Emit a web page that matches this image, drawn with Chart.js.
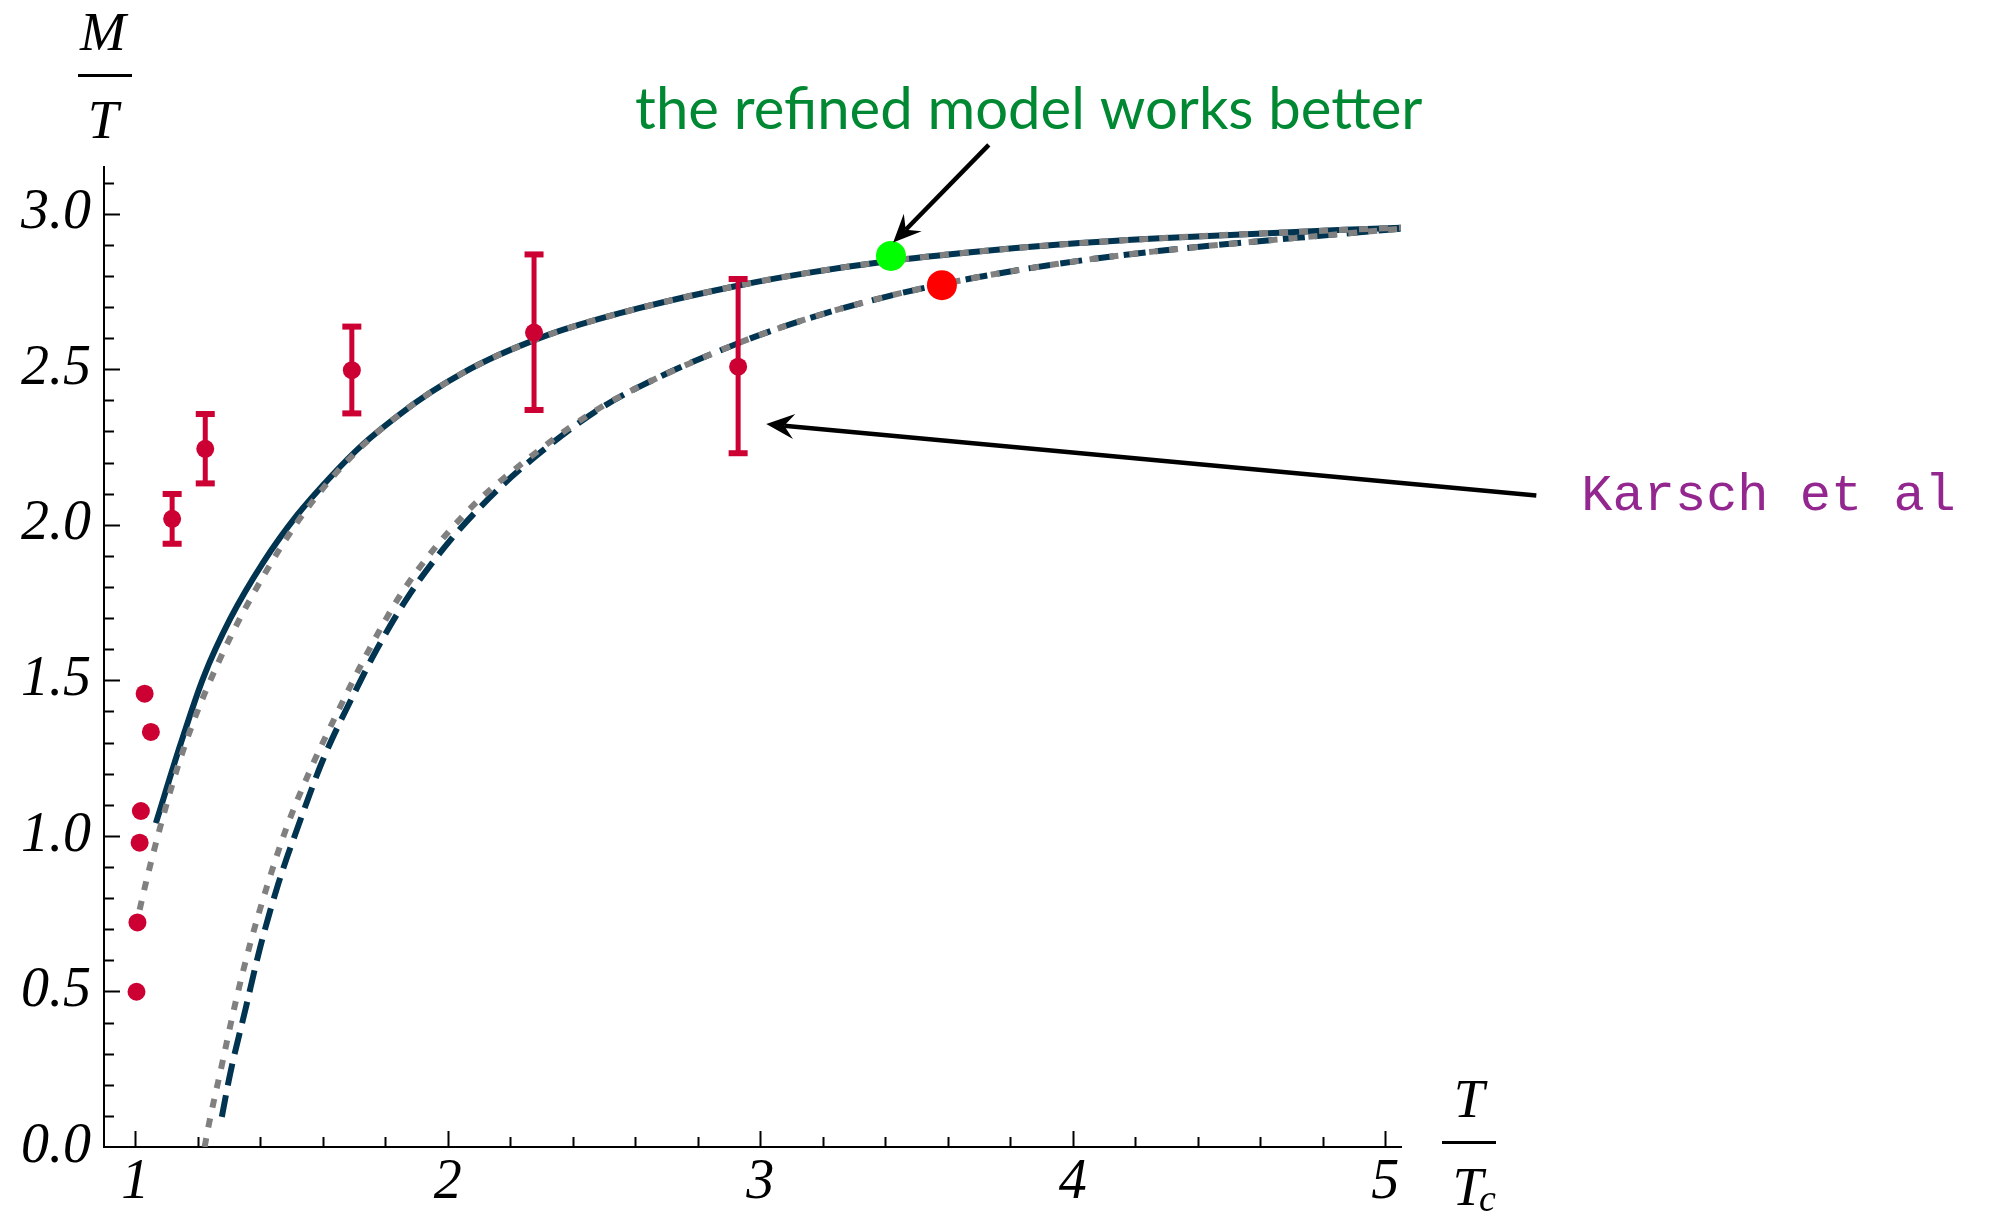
<!DOCTYPE html>
<html>
<head>
<meta charset="utf-8">
<script src="https://cdn.jsdelivr.net/npm/chart.js@4.4.1/dist/chart.umd.min.js"></script>
<style>
  html, body { margin: 0; padding: 0; background: #fff; }
</style>
</head>
<body>
<canvas id="grafico" width="1994" height="1216"></canvas>
<script>
// upper curve, solid (refined model)
var refinedX = [1.066, 1.144, 1.218, 1.304, 1.410, 1.517, 1.624, 1.730, 1.837, 1.943, 2.050, 2.157, 2.263, 2.370, 2.615, 2.935, 3.147, 3.414, 3.681, 3.947, 4.278, 4.917, 5.05];
var refinedY = [1.041, 1.292, 1.509, 1.698, 1.880, 2.030, 2.153, 2.260, 2.348, 2.424, 2.489, 2.543, 2.588, 2.627, 2.697, 2.770, 2.809, 2.848, 2.877, 2.900, 2.921, 2.950, 2.955];
// upper curve, gray dotted
var refinedDotX = [1.000, 1.032, 1.061, 1.096, 1.133, 1.176, 1.224, 1.304, 1.410, 1.517, 1.624, 1.730, 1.837, 1.943, 2.050, 2.157, 2.263, 2.370, 2.615, 2.935, 3.147, 3.414, 3.681, 3.947, 4.278, 4.917, 5.05];
var refinedDotY = [0.700, 0.841, 0.957, 1.087, 1.213, 1.340, 1.462, 1.638, 1.835, 2.006, 2.145, 2.257, 2.348, 2.424, 2.489, 2.543, 2.588, 2.627, 2.697, 2.770, 2.809, 2.848, 2.877, 2.900, 2.921, 2.950, 2.955];
// lower curve, dashed
var simpleX = [1.277, 1.304, 1.352, 1.400, 1.458, 1.528, 1.602, 1.709, 1.773, 1.879, 2.007, 2.157, 2.317, 2.477, 2.615, 2.935, 3.147, 3.414, 3.681, 3.947, 4.256, 4.917, 5.05];
var simpleY = [0.097, 0.237, 0.440, 0.643, 0.847, 1.050, 1.248, 1.475, 1.600, 1.778, 1.949, 2.110, 2.249, 2.367, 2.445, 2.586, 2.661, 2.736, 2.793, 2.838, 2.878, 2.940, 2.952];
// lower curve, gray dotted
var simpleDotX = [1.222, 1.234, 1.277, 1.320, 1.368, 1.421, 1.485, 1.560, 1.645, 1.741, 1.858, 2.050, 2.263, 2.477, 2.615, 2.935, 3.147, 3.414, 3.681, 3.947, 4.256, 4.917, 5.05];
var simpleDotY = [0.000, 0.065, 0.263, 0.461, 0.654, 0.836, 1.029, 1.212, 1.393, 1.585, 1.789, 2.030, 2.217, 2.370, 2.445, 2.586, 2.661, 2.736, 2.793, 2.838, 2.878, 2.940, 2.952];

// lattice points without errors
var latticeX = [1.004, 1.007, 1.014, 1.018, 1.030, 1.050];
var latticeY = [0.499, 0.722, 0.978, 1.080, 1.457, 1.334];

// Karsch et al with error bars
var karschX = [1.118, 1.224, 1.693, 2.276, 2.929];
var karschY = [2.019, 2.244, 2.497, 2.618, 2.508];
var karschLo = [1.939, 2.133, 2.358, 2.369, 2.230];
var karschHi = [2.099, 2.356, 2.637, 2.869, 2.790];

var greenPoint = [3.418, 2.864];
var redPoint = [3.581, 2.770];

var xTicks = [1, 2, 3, 4, 5];
var yTicks = [0, 0.5, 1, 1.5, 2, 2.5, 3];

var titleText = 'the refined model works better';
var titlePos = [3.859, 3.272];
var titleArrow = [3.731, 3.221, 3.425, 2.907];
var karschText = 'Karsch et al';
var karschPos = [5.627, 2.046];
var karschArrow = [5.483, 2.094, 3.019, 2.324];

var NAVY = '#003450';
var GRAY = '#808080';
var CRIMSON = '#cc0033';
var serif = '"Liberation Serif", "Times New Roman", serif';

function punti(xs, ys) {
    return xs.map(function (x, i) { return {x: x, y: ys[i]}; });
}

function drawArrow(ctx, x1, y1, x2, y2) {
    var ang = Math.atan2(y2 - y1, x2 - x1);
    var c = Math.cos(ang), s = Math.sin(ang);
    var len = 28, half = 12.5, notch = 18;
    ctx.beginPath();
    ctx.moveTo(x1, y1);
    ctx.lineTo(x2 - c * notch, y2 - s * notch);
    ctx.stroke();
    var bx = x2 - c * len, by = y2 - s * len;
    ctx.beginPath();
    ctx.moveTo(x2, y2);
    ctx.lineTo(bx + s * half, by - c * half);
    ctx.lineTo(x2 - c * notch, y2 - s * notch);
    ctx.lineTo(bx - s * half, by + c * half);
    ctx.closePath();
    ctx.fill();
}

var decorPlugin = {
    id: 'decor',
    afterDatasetsDraw: function (chart) {
        var ctx = chart.ctx, xs = chart.scales.x, ys = chart.scales.y;
        ctx.save();
        ctx.strokeStyle = CRIMSON;
        ctx.fillStyle = CRIMSON;
        ctx.lineWidth = 5;
        for (var i = 0; i < karschX.length; i++) {
            var px = xs.getPixelForValue(karschX[i]);
            var top = ys.getPixelForValue(karschHi[i]);
            var bot = ys.getPixelForValue(karschLo[i]);
            ctx.beginPath();
            ctx.moveTo(px, top);
            ctx.lineTo(px, bot);
            ctx.stroke();
            ctx.fillRect(px - 9.5, top - 3, 19, 6);
            ctx.fillRect(px - 9.5, bot - 3, 19, 6);
        }
        ctx.restore();
    },
    afterDraw: function (chart) {
        var ctx = chart.ctx, xs = chart.scales.x, ys = chart.scales.y;
        var area = chart.chartArea;
        ctx.save();

        // inward ticks, Mathematica style
        ctx.strokeStyle = '#000';
        ctx.lineWidth = 2;
        var v, p, len;
        for (v = 1; v <= 31; v++) {
            p = Math.round(ys.getPixelForValue(v / 10)) + 0.5;
            len = (v % 5 === 0) ? 16 : 10;
            ctx.beginPath();
            ctx.moveTo(area.left, p);
            ctx.lineTo(area.left + len, p);
            ctx.stroke();
        }
        for (v = 5; v <= 25; v++) {
            p = Math.round(xs.getPixelForValue(v / 5)) + 0.5;
            len = (v % 5 === 0) ? 16 : 10;
            ctx.beginPath();
            ctx.moveTo(p, area.bottom);
            ctx.lineTo(p, area.bottom - len);
            ctx.stroke();
        }

        // annotations
        ctx.fillStyle = '#008833';
        ctx.font = '58px Lato, "Open Sans", sans-serif';
        ctx.textAlign = 'center';
        ctx.textBaseline = 'alphabetic';
        ctx.fillText(titleText, xs.getPixelForValue(titlePos[0]), ys.getPixelForValue(titlePos[1]));

        ctx.fillStyle = '#93278f';
        ctx.font = '52px "Liberation Mono", "Courier New", monospace';
        ctx.textAlign = 'left';
        ctx.fillText(karschText, xs.getPixelForValue(karschPos[0]), ys.getPixelForValue(karschPos[1]));

        ctx.strokeStyle = '#000';
        ctx.fillStyle = '#000';
        ctx.lineWidth = 4.5;
        drawArrow(ctx, xs.getPixelForValue(titleArrow[0]), ys.getPixelForValue(titleArrow[1]),
            xs.getPixelForValue(titleArrow[2]), ys.getPixelForValue(titleArrow[3]));
        drawArrow(ctx, xs.getPixelForValue(karschArrow[0]), ys.getPixelForValue(karschArrow[1]),
            xs.getPixelForValue(karschArrow[2]), ys.getPixelForValue(karschArrow[3]));

        // axis labels as fractions
        ctx.fillStyle = '#000';
        ctx.textAlign = 'center';
        ctx.font = 'italic 55px ' + serif;
        ctx.fillText('M', area.left - 1, area.top - 117);
        ctx.fillRect(area.left - 26, area.top - 93, 54, 3);
        ctx.fillText('T', area.left - 1, area.top - 29);

        var cx = area.right + 68;
        ctx.fillText('T', cx, area.bottom - 30);
        ctx.fillRect(cx - 27, area.bottom - 6, 54, 3);
        ctx.textAlign = 'right';
        ctx.fillText('T', cx + 14, area.bottom + 58);
        ctx.textAlign = 'left';
        ctx.font = 'italic 38px ' + serif;
        ctx.fillText('c', cx + 10, area.bottom + 64);

        ctx.restore();
    }
};

var ctx = document.getElementById('grafico');
var chart = new Chart(ctx, {
    type: 'scatter',
    data: {
        datasets: [
            {
                label: 'green', data: [{x: greenPoint[0], y: greenPoint[1]}],
                pointRadius: 15, backgroundColor: '#00ff00', borderWidth: 0, order: 1
            },
            {
                label: 'red', data: [{x: redPoint[0], y: redPoint[1]}],
                pointRadius: 15, backgroundColor: '#ff0000', borderWidth: 0, order: 1
            },
            {
                label: 'Karsch et al', data: punti(karschX, karschY),
                pointRadius: 9, backgroundColor: CRIMSON, borderWidth: 0, order: 2
            },
            {
                label: 'lattice', data: punti(latticeX, latticeY),
                pointRadius: 9, backgroundColor: CRIMSON, borderWidth: 0, order: 2
            },
            {
                label: 'refined dotted', data: punti(refinedDotX, refinedDotY), showLine: true,
                borderColor: GRAY, borderWidth: 6, borderDash: [9, 11], pointRadius: 0,
                cubicInterpolationMode: 'monotone', order: 4
            },
            {
                label: 'simple dotted', data: punti(simpleDotX, simpleDotY), showLine: true,
                borderColor: GRAY, borderWidth: 6, borderDash: [9, 11], pointRadius: 0,
                cubicInterpolationMode: 'monotone', order: 4
            },
            {
                label: 'refined', data: punti(refinedX, refinedY), showLine: true,
                borderColor: NAVY, borderWidth: 6, pointRadius: 0,
                cubicInterpolationMode: 'monotone', order: 5
            },
            {
                label: 'simple', data: punti(simpleX, simpleY), showLine: true,
                borderColor: NAVY, borderWidth: 6, borderDash: [22, 10], pointRadius: 0,
                cubicInterpolationMode: 'monotone', order: 5
            }
        ]
    },
    options: {
        responsive: false,
        animation: false,
        layout: { padding: { left: 0, top: 167, right: 593, bottom: 0 } },
        plugins: { legend: { display: false }, tooltip: { enabled: false } },
        scales: {
            x: {
                type: 'linear', min: 0.9, max: 5.05,
                afterBuildTicks: function (s) { s.ticks = xTicks.map(function (v) { return {value: v}; }); },
                afterFit: function (s) { s.height = 69; },
                grid: { display: false, drawTicks: false },
                border: { display: true, color: '#000', width: 2 },
                ticks: {
                    autoSkip: false, maxRotation: 0, padding: 3, color: '#000',
                    font: { family: serif, size: 56, style: 'italic' },
                    callback: function (v) { return String(v); }
                }
            },
            y: {
                type: 'linear', min: 0, max: 3.15,
                afterBuildTicks: function (s) { s.ticks = yTicks.map(function (v) { return {value: v}; }); },
                afterFit: function (s) { s.width = 104; },
                grid: { display: false, drawTicks: false },
                border: { display: true, color: '#000', width: 2 },
                ticks: {
                    autoSkip: false, padding: 13, color: '#000',
                    font: { family: serif, size: 56, style: 'italic' },
                    callback: function (v) { return v.toFixed(1); }
                }
            }
        }
    },
    plugins: [decorPlugin]
});
</script>
</body>
</html>
